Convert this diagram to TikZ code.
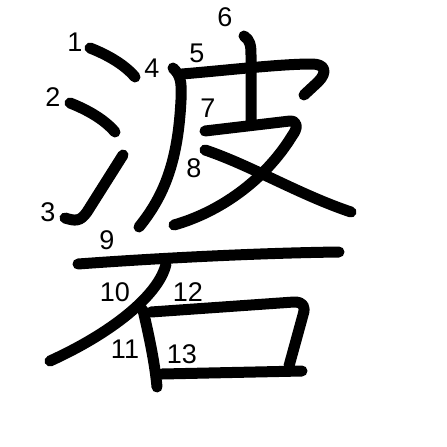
\documentclass[tikz,border=0pt]{standalone}
\usepackage{fontspec}
\setmainfont{Liberation Sans}
\usetikzlibrary{positioning}

\begin{document}
\begin{tikzpicture}[
    x=1pt, y=-1pt,
    stroke/.style={line width=11pt, black, line cap=round, line join=round},
    num/.style={inner sep=0pt, font=\fontsize{27}{27}\selectfont}
]
    \useasboundingbox (0,0) rectangle (447,447);

    % ==========================================
    % Water radical (strokes 1-3)
    % ==========================================
    \draw[stroke] (90,48) .. controls (108,55) and (125,65) .. (135,77);
    \draw[stroke] (70,103) .. controls (88,110) and (105,120) .. (115,132);
    \draw[stroke] (65,218) .. controls (75,221) and (80,222) .. (87,212) -- (123,155);

    % ==========================================
    % Skin part (strokes 4-8)
    % ==========================================
    \draw[stroke] (173,68) .. controls (180,75) and (182,80) .. (181,100)
        .. controls (178,160) and (165,195) .. (139,227);
    \draw[stroke] (182,74) .. controls (230,70) and (280,64) .. (312,64)
        .. controls (325,64) and (328,72) .. (318,82) -- (304,95);
    \draw[stroke] (244,36) .. controls (250,40) and (251,45) .. (251,55) -- (251,121);
    \draw[stroke] (205,131) -- (290,121) .. controls (298,121) and (298,128) .. (292,136)
        .. controls (265,180) and (220,212) .. (174,225);
    \draw[stroke] (205,150) .. controls (250,165) and (300,195) .. (351,212);

    % ==========================================
    % Stone part (strokes 9-13)
    % ==========================================
    \draw[stroke] (78,264) .. controls (160,258) and (260,253) .. (339,252);
    \draw[stroke] (166,264) .. controls (160,292) and (118,330) .. (50,361);
    \draw[stroke] (143,310) .. controls (150,340) and (155,365) .. (157,387);
    \draw[stroke] (151,312) -- (294,302) .. controls (303,302) and (306,306) .. (303,315) -- (289,366);
    \draw[stroke] (162,374) -- (302,371);

    % --- stroke numbers ---
    \node[num] (n1) at (75,42) {1};
    \node[num] (n2) at (53,97) {2};
    \node[num] (n3) at (48,212) {3};
    \node[num] (n4) at (152,68) {4};
    \node[num] (n5) at (197,53) {5};
    \node[num] (n6) at (225,17) {6};
    \node[num] (n7) at (208,108) {7};
    \node[num] (n8) at (194,168) {8};
    \node[num] (n9) at (107,240) {9};
    \node[num] (n10) at (115,292) {10};
    \node[num] (n11) at (125,349) {11};
    \node[num] (n12) at (188,292) {12};
    \node[num] (n13) at (182,354) {13};
\end{tikzpicture}
\end{document}
